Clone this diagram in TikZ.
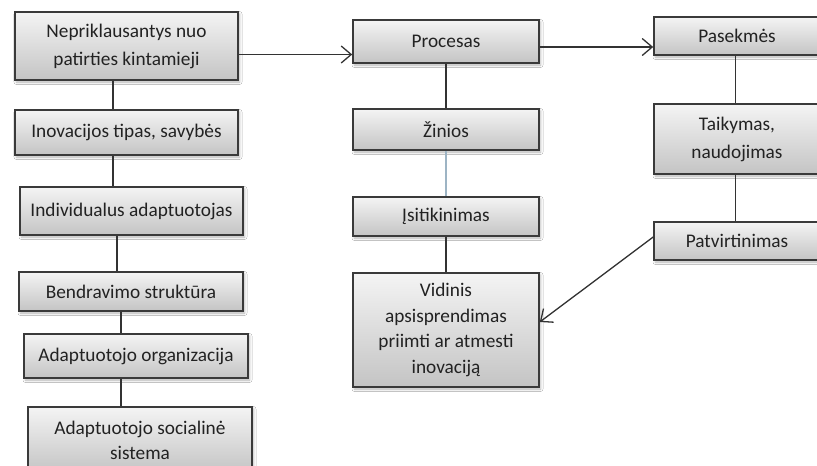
\documentclass[tikz,border=0pt]{standalone}
\usepackage{fontspec}
\setmainfont{Carlito}
\usetikzlibrary{arrows.meta,shadows.blur}

\definecolor{boxline}{HTML}{3A3A3A}
\definecolor{linkline}{HTML}{333333}
\definecolor{boxtop}{HTML}{F4F4F4}
\definecolor{boxbottom}{HTML}{C4C4C4}
\definecolor{textcol}{HTML}{222222}
\definecolor{softblue}{HTML}{9DB4C4}

\tikzset{
  stagebox/.style={
    draw=boxline, line width=1.6pt, rectangle,
    top color=boxtop, bottom color=boxbottom,
    text=textcol, align=center, inner sep=2pt,
    font=\fontsize{19.3}{28}\selectfont,
    blur shadow={shadow xshift=1.5pt, shadow yshift=-2pt,
                 shadow blur radius=2.5pt, shadow opacity=30}
  },
  link/.style={draw=linkline, line width=1.3pt},
  flow/.style={link, -{Straight Barb[length=10pt,width=17pt,line width=1.3pt]}}
}

\begin{document}
\begin{tikzpicture}[x=1pt,y=-1pt]
  \useasboundingbox (0,0) rectangle (817,466);
  \fill[white] (0,0) rectangle (817,466);

  % factors column
  \node[stagebox, minimum width=223pt, minimum height=68pt] (n1) at (126.5,46)
    {Nepriklausantys nuo\\patirties kintamieji};
  \node[stagebox, minimum width=223pt, minimum height=45pt] (n2) at (126.5,132.5)
    {Inovacijos tipas, savybės};
  \node[stagebox, minimum width=223pt, minimum height=48pt] (n3) at (131.5,211)
    {Individualus adaptuotojas};
  \node[stagebox, minimum width=224pt, minimum height=39pt] (n4) at (131,291.5)
    {Bendravimo struktūra};
  \node[stagebox, minimum width=224pt, minimum height=44pt] (n5) at (136,356)
    {Adaptuotojo organizacija};
  \node[stagebox, minimum width=224pt, minimum height=66pt,
        font=\fontsize{19.3}{25}\selectfont] (n6) at (140,440)
    {Adaptuotojo socialinė\\sistema};

  % process column
  \node[stagebox, minimum width=186pt, minimum height=43pt] (proc) at (446,41.5)
    {Procesas};
  \node[stagebox, minimum width=186pt, minimum height=41pt] (zin) at (446,129.5)
    {Žinios};
  \node[stagebox, minimum width=186pt, minimum height=39pt] (isit) at (446,216.5)
    {Įsitikinimas};
  \node[stagebox, minimum width=186pt, minimum height=114pt,
        font=\fontsize{19.3}{25.5}\selectfont] (vid) at (446,330)
    {Vidinis\\apsisprendimas\\priimti ar atmesti\\inovaciją};

  % consequences column
  \node[stagebox, minimum width=166pt, minimum height=38pt] (pas) at (737,36)
    {Pasekmės};
  \node[stagebox, minimum width=166pt, minimum height=70pt] (tai) at (737,139)
    {Taikymas,\\naudojimas};
  \node[stagebox, minimum width=166pt, minimum height=38pt] (pat) at (737,241)
    {Patvirtinimas};

  % vertical links of the factors column
  \coordinate (ca) at (113,0);
  \coordinate (cb) at (117,0);
  \coordinate (cc) at (121,0);
  \coordinate (cd) at (735.5,0);
  \draw[link] (n1.south -| ca) -- (n2.north -| ca);
  \draw[link] (n2.south -| ca) -- (n3.north -| ca);
  \draw[link] (n3.south -| cb) -- (n4.north -| cb);
  \draw[link] (n4.south -| cc) -- (n5.north -| cc);
  \draw[link] (n5.south -| cc) -- (n6.north -| cc);

  % process links
  \draw[link] (proc.south) -- (zin.north);
  \draw[draw=softblue, line width=1.1pt] (zin.south) -- (isit.north);
  \draw[link] (isit.south) -- (vid.north);

  % consequence links
  \draw[link] (pas.south -| cd) -- (tai.north -| cd);
  \draw[link] (tai.south -| cd) -- (pat.north -| cd);

  % arrows between the columns
  \draw[flow] ([yshift=-8.5pt]n1.east) -- ([yshift=-8.5pt]n1.east -| proc.west);
  \draw[flow] ([yshift=-5.5pt]proc.east) -- ([yshift=-5.5pt]proc.east -| pas.west);
  \draw[flow] ([yshift=4pt]pat.west) -- ([yshift=8pt]vid.east);
\end{tikzpicture}
\end{document}
